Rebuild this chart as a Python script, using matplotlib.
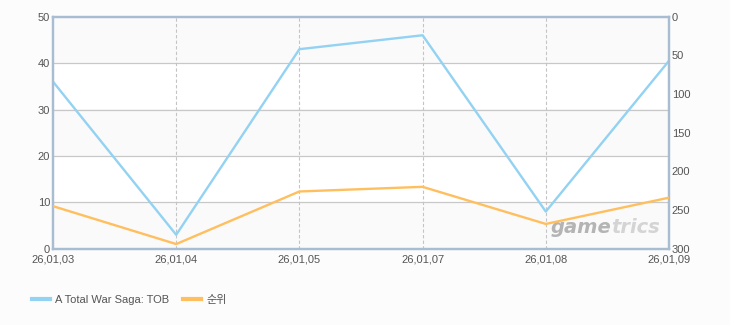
import matplotlib
matplotlib.use("Agg")
import matplotlib.pyplot as plt

dates = ["26,01,03", "26,01,04", "26,01,05", "26,01,07", "26,01,08", "26,01,09"]
players = [36, 3, 43, 46, 8, 40.5]
rank = [245, 294, 226, 220, 268, 234]

series_name = "A Total War Saga: TOB"
rank_name = "순위"

BLUE = "#93d2f2"
ORANGE = "#ffbf5f"
SPINE = "#a9bdd2"
TXT = "#555555"

plt.rcParams["font.family"] = ["Liberation Sans", "Noto Sans CJK KR", "DejaVu Sans"]

fig = plt.figure(figsize=(7.3, 3.25), dpi=100, facecolor="#fcfcfc")
ax = fig.add_axes([53 / 730, 1 - 248.7 / 325, 616 / 730, 232 / 325])
ax.set_facecolor("white")
x = list(range(len(dates)))

for lo in (0, 20, 40):
    ax.axhspan(lo, lo + 10, color="#fafafa", zorder=0, lw=0)
for y in (10, 20, 30, 40):
    ax.axhline(y, color="#c8c8c8", lw=0.9, zorder=1)
for xi in x[1:-1]:
    ax.axvline(xi, color="#c4c4c4", lw=0.8, ls=(0, (3, 2)), zorder=1)

ax.plot(x, players, color=BLUE, lw=1.7, zorder=3, label=series_name)
ax.set_xlim(0, len(dates) - 1)
ax.set_ylim(0, 50)
ax.set_yticks(range(0, 51, 10))
ax.set_xticks(x)
ax.set_xticklabels(dates)

ax2 = ax.twinx()
ax2.plot(x, rank, color=ORANGE, lw=1.7, zorder=3, label=rank_name)
ax2.set_ylim(300, 0)
ax2.set_yticks(range(0, 301, 50))

for a in (ax, ax2):
    a.tick_params(length=0, labelsize=8, labelcolor=TXT, pad=2)
    for s in a.spines.values():
        s.set_color(SPINE)
        s.set_linewidth(1.6)
ax.tick_params(axis="x", pad=4)

# watermark
t1 = ax.text(0.807, 0.05, "game", transform=ax.transAxes, fontsize=14,
             fontstyle="italic", fontweight="bold", color="#b4b4b4",
             family="DejaVu Sans", ha="left", va="bottom", zorder=2)
ax.annotate("trics", xy=(1, 0), xycoords=t1, va="bottom", ha="left",
            fontsize=14, fontstyle="italic", fontweight="bold",
            color="#d4d4d4", family="DejaVu Sans", zorder=2)

h1, l1 = ax.get_legend_handles_labels()
h2, l2 = ax2.get_legend_handles_labels()
leg = fig.legend(h1 + h2, l1 + l2, loc="center left",
                 bbox_to_anchor=(22 / 730, 1 - 300 / 325), ncol=2, frameon=False,
                 fontsize=8, handlelength=1.6, handletextpad=0.5,
                 columnspacing=1.2, labelcolor=TXT)
for line in leg.get_lines():
    line.set_linewidth(3)

fig.savefig("out.png", dpi=100, facecolor=fig.get_facecolor())
